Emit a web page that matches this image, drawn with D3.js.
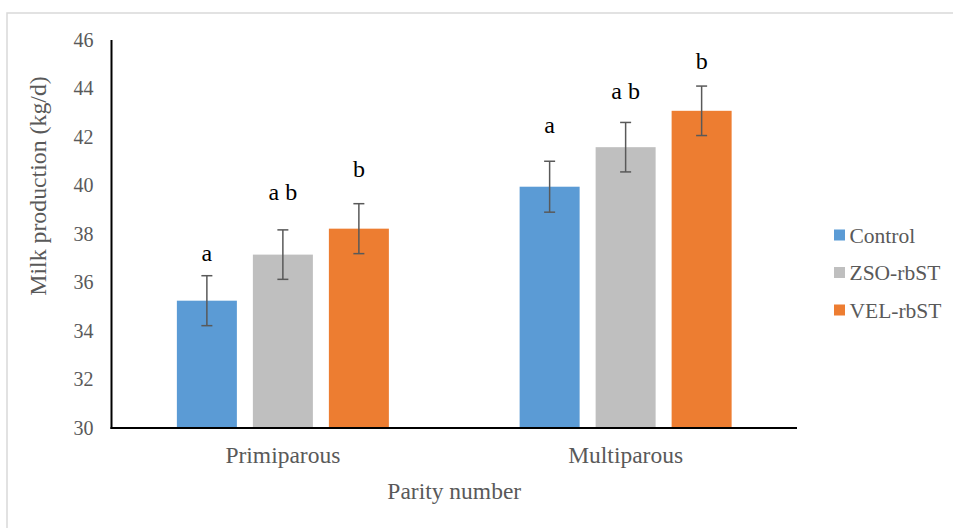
<!DOCTYPE html>
<html>
<head>
<meta charset="utf-8">
<script src="https://cdn.jsdelivr.net/npm/d3@7"></script>
<style>
  html, body { margin: 0; padding: 0; background: #fff; }
  svg { display: block; }
  text { font-family: "Liberation Serif", "Times New Roman", serif; }
</style>
</head>
<body>
<script>
const categories = ["Primiparous", "Multiparous"];
const series = ["Control", "ZSO-rbST", "VEL-rbST"];
const colors = ["#5b9bd5", "#bfbfbf", "#ed7d31"];
// values[series][category]
const controlValues = [35.25, 39.95];
const zsoValues = [37.15, 41.58];
const velValues = [38.22, 43.08];
const controlErr = [1.03, 1.05];
const zsoErr = [1.02, 1.02];
const velErr = [1.03, 1.02];
const controlLetters = ["a", "a"];
const zsoLetters = ["a b", "a b"];
const velLetters = ["b", "b"];
// baseline of significance letters, in y-axis units
const controlLetterY = [36.89, 42.15];
const zsoLetterY = [39.40, 43.57];
const velLetterY = [40.34, 44.79];
const yTicks = [30, 32, 34, 36, 38, 40, 42, 44, 46];
const yTitle = "Milk production (kg/d)";
const xTitle = "Parity number";

const seriesValues = [controlValues, zsoValues, velValues];
const seriesErr = [controlErr, zsoErr, velErr];
const seriesLetters = [controlLetters, zsoLetters, velLetters];
const seriesLetterY = [controlLetterY, zsoLetterY, velLetterY];

(function () {
const W = 953, H = 528;
const svg = d3.select("body").append("svg").attr("width", W).attr("height", H);

// outer chart border
svg.append("rect").attr("x", 7).attr("y", 13).attr("width", W + 10).attr("height", H + 10)
  .attr("fill", "none").attr("stroke", "#d9d9d9").attr("stroke-width", 1.5);

const pL = 111.5, pR = 797, pT = 40, pB = 428;
const y = d3.scaleLinear().domain([30, 46]).range([pB, pT]);
const p = 1 - 212 / 342.75;
const x0 = d3.scaleBand().domain(categories).range([pL, pR]).paddingInner(p).paddingOuter(p / 2);
const x1 = d3.scaleBand().domain(series).range([0, x0.bandwidth()]).paddingInner(16 / 76);

const data = [];
series.forEach((s, si) => {
  categories.forEach((c, ci) => {
    data.push({ s, si, c, v: seriesValues[si][ci], e: seriesErr[si][ci],
      letter: seriesLetters[si][ci], ly: seriesLetterY[si][ci] });
  });
});

// bars
svg.append("g").selectAll("rect").data(data).join("rect")
  .attr("x", d => x0(d.c) + x1(d.s))
  .attr("y", d => y(d.v))
  .attr("width", x1.bandwidth())
  .attr("height", d => y(30) - y(d.v))
  .attr("fill", d => colors[d.si]);

// error bars
const eg = svg.append("g").attr("stroke", "#595959").attr("stroke-width", 1.5);
data.forEach(d => {
  const cx = x0(d.c) + x1(d.s) + x1.bandwidth() / 2;
  eg.append("line").attr("x1", cx).attr("x2", cx).attr("y1", y(d.v + d.e)).attr("y2", y(d.v - d.e));
  eg.append("line").attr("x1", cx - 5.5).attr("x2", cx + 5.5).attr("y1", y(d.v + d.e)).attr("y2", y(d.v + d.e));
  eg.append("line").attr("x1", cx - 5.5).attr("x2", cx + 5.5).attr("y1", y(d.v - d.e)).attr("y2", y(d.v - d.e));
});

// letters
svg.append("g").selectAll("text").data(data).join("text")
  .attr("x", d => x0(d.c) + x1(d.s) + x1.bandwidth() / 2)
  .attr("y", d => y(d.ly))
  .attr("text-anchor", "middle")
  .attr("font-size", 24)
  .attr("fill", "#000")
  .text(d => d.letter);

// y axis
const yAxis = d3.axisLeft(y).tickValues(yTicks).tickSize(0).tickPadding(18);
const yg = svg.append("g").attr("transform", `translate(${pL},0)`).call(yAxis);
yg.select(".domain").remove();
yg.selectAll("text").attr("font-size", 20).attr("fill", "#595959")
  .attr("font-family", "Liberation Serif, Times New Roman, serif");

// x axis
const xAxis = d3.axisBottom(x0).tickSize(0).tickPadding(18);
const xg = svg.append("g").attr("transform", `translate(0,${pB})`).call(xAxis);
xg.select(".domain").remove();
xg.selectAll("text").attr("font-size", 23.5).attr("fill", "#595959")
  .attr("font-family", "Liberation Serif, Times New Roman, serif");

// axis lines
svg.append("line").attr("x1", pL).attr("x2", pL).attr("y1", pT).attr("y2", pB + 1)
  .attr("stroke", "#000").attr("stroke-width", 2);
svg.append("line").attr("x1", pL - 1).attr("x2", pR).attr("y1", pB).attr("y2", pB)
  .attr("stroke", "#000").attr("stroke-width", 2);

// axis titles
svg.append("text").attr("transform", `translate(46,${(pT + pB) / 2 - 48}) rotate(-90)`)
  .attr("text-anchor", "middle").attr("font-size", 23.8).attr("fill", "#595959").text(yTitle);
svg.append("text").attr("x", (pL + pR) / 2).attr("y", 499)
  .attr("text-anchor", "middle").attr("font-size", 23.5).attr("fill", "#595959").text(xTitle);

// legend
const lg = svg.append("g");
series.forEach((s, i) => {
  const cy = 235 + i * 37.5;
  lg.append("rect").attr("x", 834).attr("y", cy - 5.5).attr("width", 11).attr("height", 11).attr("fill", colors[i]);
  lg.append("text").attr("x", 849.5).attr("y", cy).attr("dy", "0.35em")
    .attr("font-size", 21.5).attr("fill", "#595959").text(s);
});
})();
</script>
</body>
</html>
